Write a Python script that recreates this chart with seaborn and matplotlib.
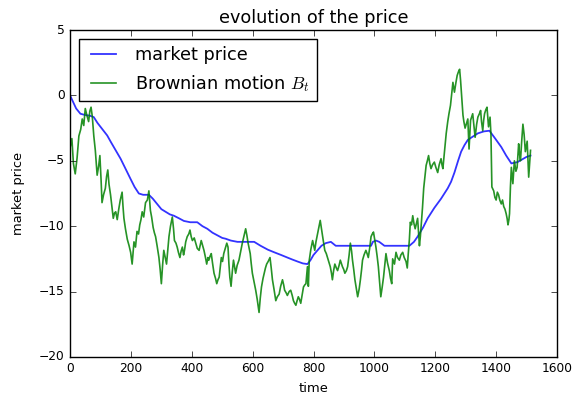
import matplotlib
matplotlib.use("Agg")
import matplotlib.pyplot as plt
import seaborn as sns
import numpy as np
import pandas as pd

# ---- data ----
bm_time = [0, 6, 11, 17, 23, 29, 35, 40, 45, 50, 55, 61, 65, 69, 73, 78, 83, 89, 94, 98,
           102, 105, 110, 116, 120, 124, 128, 133, 138, 142, 146, 150, 155, 160, 165, 171, 174, 177, 182, 188,
           194, 199, 204, 207, 210, 215, 220, 225, 229, 233, 237, 242, 248, 254, 259, 264, 268, 273, 277, 281,
           286, 292, 296, 300, 304, 308, 312, 317, 321, 325, 330, 336, 340, 343, 348, 352, 356, 361, 365, 369,
           373, 376, 380, 385, 390, 394, 398, 402, 408, 413, 418, 424, 428, 431, 436, 440, 445, 449, 453, 456,
           460, 464, 468, 473, 478, 482, 486, 490, 494, 497, 501, 505, 510, 515, 519, 522, 525, 529, 533, 537,
           541, 544, 549, 555, 560, 566, 571, 577, 581, 585, 592, 595, 599, 604, 610, 615, 621, 625, 629, 634,
           638, 642, 646, 651, 657, 661, 665, 670, 676, 681, 687, 692, 698, 702, 705, 710, 714, 720, 725, 730,
           734, 738, 742, 746, 750, 754, 758, 763, 767, 771, 775, 780, 783, 786, 791, 797, 804, 808, 813, 818,
           822, 826, 830, 834, 837, 842, 846, 851, 855, 859, 862, 866, 870, 875, 879, 884, 888, 892, 895, 899,
           903, 908, 912, 917, 921, 925, 928, 932, 936, 941, 945, 950, 954, 958, 961, 966, 972, 976, 980, 985,
           989, 993, 997, 1001, 1005, 1009, 1013, 1017, 1021, 1026, 1030, 1034, 1038, 1043, 1049, 1053, 1057, 1060, 1066, 1071,
           1076, 1082, 1087, 1093, 1098, 1104, 1108, 1111, 1115, 1118, 1122, 1126, 1130, 1134, 1138, 1142, 1145, 1148, 1151, 1153,
           1158, 1162, 1166, 1170, 1174, 1178, 1182, 1186, 1191, 1197, 1202, 1208, 1213, 1219, 1222, 1225, 1229, 1232, 1236, 1241,
           1245, 1250, 1254, 1258, 1263, 1268, 1272, 1276, 1280, 1283, 1285, 1288, 1291, 1294, 1298, 1302, 1307, 1311, 1316, 1323,
           1327, 1331, 1336, 1340, 1345, 1349, 1352, 1356, 1359, 1362, 1366, 1370, 1375, 1380, 1383, 1384, 1386, 1392, 1396, 1400,
           1404, 1408, 1412, 1417, 1421, 1425, 1429, 1433, 1436, 1439, 1442, 1444, 1447, 1450, 1455, 1460, 1465, 1469, 1474, 1477,
           1480, 1484, 1488, 1492, 1496, 1502, 1507, 1513]
bm_value = [-4.0, -3.3, -5.2, -6.0, -4.8, -3.1, -2.6, -1.8, -2.3, -1.0, -1.5, -2.0, -1.2, -0.9, -1.6, -3.1, -4.2, -6.1, -5.4, -4.6,
            -6.5, -8.2, -7.6, -7.1, -6.2, -5.7, -6.8, -7.6, -8.6, -9.4, -9.0, -8.9, -9.5, -8.7, -8.0, -7.4, -8.5, -9.4, -10.2, -11.0,
            -11.5, -12.0, -12.9, -12.0, -11.2, -11.6, -10.4, -10.6, -9.9, -9.5, -8.9, -9.3, -8.2, -8.0, -7.3, -8.8, -9.3, -10.1, -10.5, -10.8,
            -11.5, -12.4, -13.3, -14.4, -13.0, -11.85, -12.3, -12.9, -11.8, -10.8, -10.0, -9.3, -10.2, -11.1, -11.3, -11.6, -12.0, -12.4, -11.9, -11.6,
            -12.2, -11.85, -11.2, -10.8, -10.6, -10.3, -10.8, -11.1, -10.9, -11.3, -11.7, -11.85, -11.4, -11.1, -11.5, -11.85, -12.4, -12.9, -12.4, -12.6,
            -12.3, -12.1, -12.8, -13.6, -14.0, -14.4, -14.1, -13.9, -13.0, -12.4, -12.7, -12.1, -11.7, -11.3, -11.6, -12.9, -13.9, -14.6, -13.5, -12.6,
            -13.2, -13.6, -13.0, -12.6, -12.0, -11.3, -10.8, -10.2, -10.7, -11.3, -12.1, -12.8, -13.6, -14.2, -14.9, -15.6, -16.6, -15.5, -14.65, -14.0,
            -13.6, -13.2, -12.9, -12.7, -12.4, -13.2, -14.1, -14.8, -15.7, -15.4, -15.2, -14.6, -14.1, -14.5, -14.9, -15.1, -15.3, -15.0, -14.9, -15.3,
            -15.7, -15.9, -16.05, -15.7, -15.4, -15.6, -15.9, -15.2, -14.65, -14.5, -14.4, -13.1, -14.6, -12.6, -11.8, -11.1, -11.85, -11.2, -10.6, -10.0,
            -9.56, -10.2, -10.8, -11.4, -11.85, -12.1, -12.4, -12.8, -13.1, -13.6, -14.1, -13.4, -12.9, -13.2, -13.4, -13.0, -12.6, -12.9, -13.1, -13.3,
            -13.6, -13.4, -13.1, -12.2, -11.3, -11.9, -12.6, -13.3, -14.1, -14.8, -15.4, -14.8, -14.1, -13.3, -12.6, -12.2, -11.85, -12.1, -12.4, -11.6,
            -10.8, -10.6, -10.45, -11.0, -11.6, -12.3, -13.1, -14.2, -15.4, -14.6, -13.9, -13.0, -12.1, -12.8, -13.4, -14.0, -14.4, -12.5, -12.9, -12.0,
            -12.4, -12.6, -12.2, -12.0, -12.4, -12.7, -13.2, -12.2, -11.0, -9.7, -9.9, -9.2, -9.8, -10.2, -9.8, -9.4, -10.5, -11.5, -10.8, -10.2,
            -8.6, -7.1, -6.2, -5.35, -5.0, -4.6, -5.2, -5.6, -5.3, -5.1, -5.5, -5.9, -5.3, -4.84, -5.3, -5.6, -4.6, -3.8, -2.9, -2.0,
            -1.4, -0.76, 0.1, 1.0, 0.25, 1.0, 1.53, 1.8, 2.0, 1.2, 0.5, -0.5, -1.5, -2.0, -2.5, -2.2, -1.8, -4.1, -1.9, -1.4,
            -2.3, -3.2, -2.2, -1.66, -1.4, -1.15, -2.0, -2.7, -1.9, -1.4, -1.1, -0.9, -2.4, -1.66, -3.0, -4.2, -7.0, -7.3, -7.8, -8.0,
            -7.4, -7.6, -8.0, -8.3, -8.0, -8.5, -8.7, -9.05, -9.4, -9.9, -9.5, -9.05, -7.0, -5.5, -6.75, -5.0, -5.8, -5.5, -3.7, -4.5,
            -5.0, -3.5, -2.2, -3.0, -4.3, -3.5, -6.25, -4.2]

price_time = [0, 10, 20, 34, 50, 65, 78, 90, 100, 110, 122, 135, 150, 166, 180, 199, 212, 226, 240, 259,
              272, 286, 300, 314, 328, 341, 358, 374, 395, 418, 435, 451, 468, 484, 500, 511, 528, 550, 605, 626,
              650, 671, 693, 714, 730, 747, 765, 780, 790, 800, 813, 826, 840, 857, 873, 900, 950, 989, 995, 1005,
              1016, 1033, 1070, 1115, 1130, 1142, 1160, 1175, 1197, 1219, 1241, 1252, 1263, 1275, 1285, 1296, 1307, 1320, 1340, 1360,
              1378, 1397, 1417, 1433, 1450, 1470, 1485, 1500, 1513]
price_value = [0.0, -0.5, -1.0, -1.4, -1.5, -1.55, -1.66, -2.1, -2.4, -2.7, -3.06, -3.6, -4.2, -4.84, -5.5, -6.4, -7.0, -7.5, -7.6, -7.6,
               -7.9, -8.3, -8.7, -8.9, -9.1, -9.2, -9.4, -9.6, -9.7, -9.7, -10.0, -10.2, -10.5, -10.7, -10.9, -10.96, -11.1, -11.2, -11.2, -11.5,
               -11.8, -12.0, -12.2, -12.4, -12.55, -12.7, -12.85, -12.9, -12.6, -12.2, -11.85, -11.5, -11.3, -11.2, -11.5, -11.5, -11.5, -11.5, -11.2, -11.1,
               -11.2, -11.5, -11.5, -11.5, -11.2, -10.8, -10.1, -9.4, -8.6, -7.9, -7.1, -6.6, -5.9, -5.0, -4.3, -3.8, -3.4, -3.2, -2.9, -2.75,
               -2.7, -3.3, -3.95, -4.6, -5.2, -5.1, -4.9, -4.7, -4.6]

x_ticks = [0, 200, 400, 600, 800, 1000, 1200, 1400, 1600]
y_ticks = [-20, -15, -10, -5, 0, 5]

# ---- style ----
plt.style.use("classic")
plt.rcParams.update({
    "figure.facecolor": "white",
    "savefig.facecolor": "white",
    "font.family": ["DejaVu Sans"],
    "mathtext.fontset": "cm",
})

fig = plt.figure(figsize=(5.79, 4.01), dpi=100)
ax = fig.add_axes([0.121, 0.110, 0.841, 0.815])

price_df = pd.DataFrame({"time": price_time, "price": price_value})
bm_df = pd.DataFrame({"time": bm_time, "value": bm_value})

sns.lineplot(data=price_df, x="time", y="price", ax=ax, color="#0000ff", alpha=0.8,
             linewidth=1.3, label="market price", estimator=None)
sns.lineplot(data=bm_df, x="time", y="value", ax=ax, color="#008000", alpha=0.85,
             linewidth=1.2, label="Brownian motion $B_t$", estimator=None)

ax.set_xlim(0, 1600)
ax.set_ylim(-20, 5)
ax.set_xticks(x_ticks)
ax.set_yticks(y_ticks)
ax.tick_params(labelsize=8.8, direction="in", top=True, right=True)
ax.set_xlabel("time", fontsize=9.4)
ax.set_ylabel("market price", fontsize=9.4, labelpad=10)
ax.set_title("evolution of the price", fontsize=12.7)

leg = ax.legend(loc="upper left", fontsize=12.7, frameon=True, fancybox=False)
leg.get_frame().set_edgecolor("black")

fig.savefig("out.png", dpi=100)
